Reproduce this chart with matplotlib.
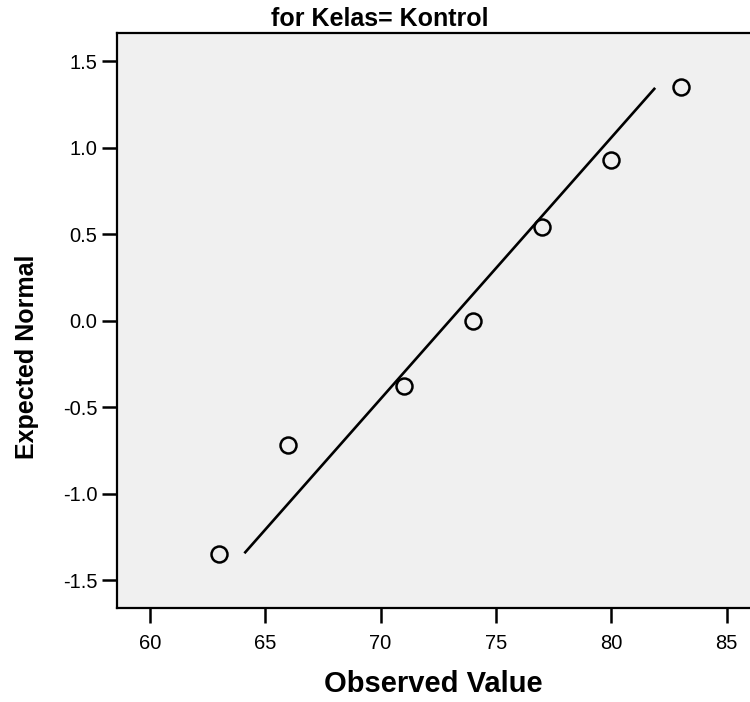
import matplotlib
matplotlib.use('Agg')
import matplotlib.pyplot as plt

# Normal Q-Q plot data
observed = [63, 66, 71, 74, 77, 80, 83]
expected_normal = [-1.35, -0.72, -0.38, 0.0, 0.54, 0.93, 1.35]

# reference line end points
line_x = [64.1, 81.9]
line_y = [-1.345, 1.345]

x_ticks = [60, 65, 70, 75, 80, 85]
x_tick_labels = ["60", "65", "70", "75", "80", "85"]
y_ticks = [-1.5, -1.0, -0.5, 0.0, 0.5, 1.0, 1.5]
y_tick_labels = ["-1.5", "-1.0", "-0.5", "0.0", "0.5", "1.0", "1.5"]

title = "for Kelas= Kontrol"
x_label = "Observed Value"
y_label = "Expected Normal"

plt.rcParams['font.family'] = ['Liberation Sans', 'DejaVu Sans']

fig = plt.figure(figsize=(7.5, 7.02), dpi=100)
ax = fig.add_axes([0.156, 0.134, 0.844, 0.8187])
ax.set_facecolor('#f0f0f0')

ax.plot(line_x, line_y, color='black', linewidth=1.9, solid_capstyle='butt', zorder=2)
ax.plot(observed, expected_normal, linestyle='none', marker='o', markersize=11.5,
        markerfacecolor='none', markeredgecolor='black', markeredgewidth=1.8, zorder=3)

ax.set_xlim(58.58, 86.01)
ax.set_ylim(-1.661, 1.661)

ax.set_xticks(x_ticks)
ax.set_xticklabels(x_tick_labels)
ax.set_yticks(y_ticks)
ax.set_yticklabels(y_tick_labels)
ax.tick_params(axis='both', direction='out', length=11, width=1.8, labelsize=14.5, color='black')
ax.tick_params(axis='x', pad=8)
ax.tick_params(axis='y', pad=3)

for side in ['left', 'bottom', 'top']:
    ax.spines[side].set_linewidth(1.6)
ax.spines['right'].set_visible(False)

# x label placed in figure coords so it stays inside the canvas
fig.text(433 / 750, 1 - 684 / 702, x_label, fontsize=21, fontweight='bold',
         ha='center', va='center')
fig.text(27 / 750, 1 - 357 / 702, y_label, rotation=90, fontsize=18, fontweight='bold',
         ha='center', va='center')
fig.text(380 / 750, 1 - 19 / 702, title, fontsize=18, fontweight='bold',
         ha='center', va='center')

fig.savefig('out.png', dpi=100)
